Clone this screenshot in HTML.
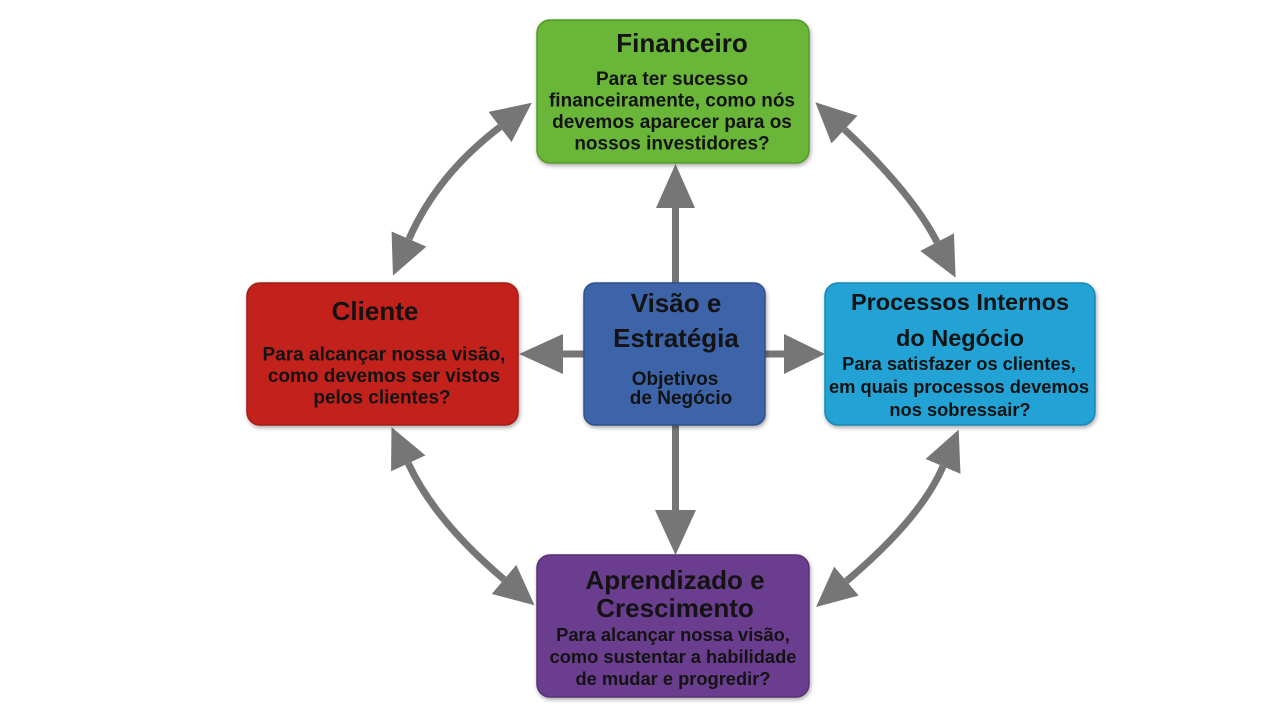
<!DOCTYPE html>
<html>
<head>
<meta charset="utf-8">
<style>
  html, body { margin: 0; padding: 0; background: #ffffff; }
  body { width: 1280px; height: 720px; overflow: hidden; }
  svg { display: block; }
  text { font-family: "Liberation Sans", "DejaVu Sans", sans-serif; font-weight: bold; fill: #131313; text-anchor: middle; }
  .t { font-size: 26px; }
  .t2 { font-size: 23.5px; }
  .b { font-size: 19px; }
  .b2 { font-size: 18.3px; }
</style>
</head>
<body>
<svg width="1280" height="720" viewBox="0 0 1280 720" xmlns="http://www.w3.org/2000/svg">
  <defs>
    <marker id="ah" viewBox="0 0 40 38" refX="0" refY="19" markerWidth="40" markerHeight="38" markerUnits="userSpaceOnUse" orient="auto-start-reverse">
      <path d="M0,0 L40,19 L0,38 Z" fill="#767676"/>
    </marker>
    <filter id="sh" x="-10%" y="-10%" width="120%" height="125%">
      <feGaussianBlur in="SourceAlpha" stdDeviation="2"/>
      <feOffset dx="1" dy="2" result="ob"/>
      <feComponentTransfer><feFuncA type="linear" slope="0.35"/></feComponentTransfer>
      <feMerge><feMergeNode/><feMergeNode in="SourceGraphic"/></feMerge>
    </filter>
  </defs>

  <!-- Curved double arrows -->
  <g fill="none" stroke="#767676" stroke-width="7" marker-start="url(#ah)" marker-end="url(#ah)">
    <path d="M409,239 Q437,175 500,127"/>
    <path d="M844.5,129.6 Q911,192 937.1,242.1"/>
    <path d="M408.3,463.4 Q435,521 504,579.4"/>
    <path d="M943,466.4 Q921,518 846.5,581.1"/>
  </g>

  <!-- Straight arrows -->
  <g fill="#767676" stroke="none">
    <rect x="672" y="204" width="7" height="80"/>
    <polygon points="656,208 675.5,164 695,208"/>
    <rect x="672" y="424" width="7" height="88"/>
    <polygon points="655,510 675.5,555 696,510"/>
    <rect x="558" y="350.5" width="27" height="7"/>
    <polygon points="563,334 519,354 563,374"/>
    <rect x="764" y="350.5" width="24" height="7"/>
    <polygon points="784,334 825,354 784,374"/>
  </g>

  <!-- Boxes -->
  <g filter="url(#sh)" stroke-width="1.5">
    <rect x="537" y="20" width="272" height="143" rx="13" fill="#6bb637" stroke="#55992b"/>
    <rect x="247" y="283" width="271" height="142" rx="13" fill="#c3231f" stroke="#a31c18"/>
    <rect x="584" y="283" width="181" height="142" rx="11" fill="#3c63a9" stroke="#2e4f8c"/>
    <rect x="825" y="283" width="270" height="142" rx="13" fill="#22a2d5" stroke="#1b87b3"/>
    <rect x="537" y="555" width="272" height="142" rx="13" fill="#6a3e8e" stroke="#573176"/>
  </g>

  <!-- Financeiro -->
  <text class="t" x="682" y="52">Financeiro</text>
  <text class="b" x="672" y="85">Para ter sucesso</text>
  <text class="b" x="672" y="106.5">financeiramente, como nós</text>
  <text class="b" x="672" y="128">devemos aparecer para os</text>
  <text class="b" x="672" y="149.5">nossos investidores?</text>

  <!-- Cliente -->
  <text class="t" x="375" y="320">Cliente</text>
  <text class="b" x="384" y="360.5">Para alcançar nossa visão,</text>
  <text class="b" x="384" y="382">como devemos ser vistos</text>
  <text class="b" x="382" y="403.5">pelos clientes?</text>

  <!-- Visão e Estratégia -->
  <text class="t" x="676" y="312">Visão e</text>
  <text class="t" x="676" y="347">Estratégia</text>
  <text class="b" x="675" y="385">Objetivos</text>
  <text class="b" x="681" y="404">de Negócio</text>

  <!-- Processos Internos -->
  <text class="t2" x="960" y="310">Processos Internos</text>
  <text class="t2" x="960" y="346">do Negócio</text>
  <text class="b2" x="959" y="370">Para satisfazer os clientes,</text>
  <text class="b2" x="959" y="393">em quais processos devemos</text>
  <text class="b2" x="960" y="416">nos sobressair?</text>

  <!-- Aprendizado e Crescimento -->
  <text class="t" x="675" y="589">Aprendizado e</text>
  <text class="t" x="675" y="617">Crescimento</text>
  <text class="b2" x="673" y="641">Para alcançar nossa visão,</text>
  <text class="b2" x="673" y="663">como sustentar a habilidade</text>
  <text class="b2" x="673" y="685">de mudar e progredir?</text>
</svg>
</body>
</html>
